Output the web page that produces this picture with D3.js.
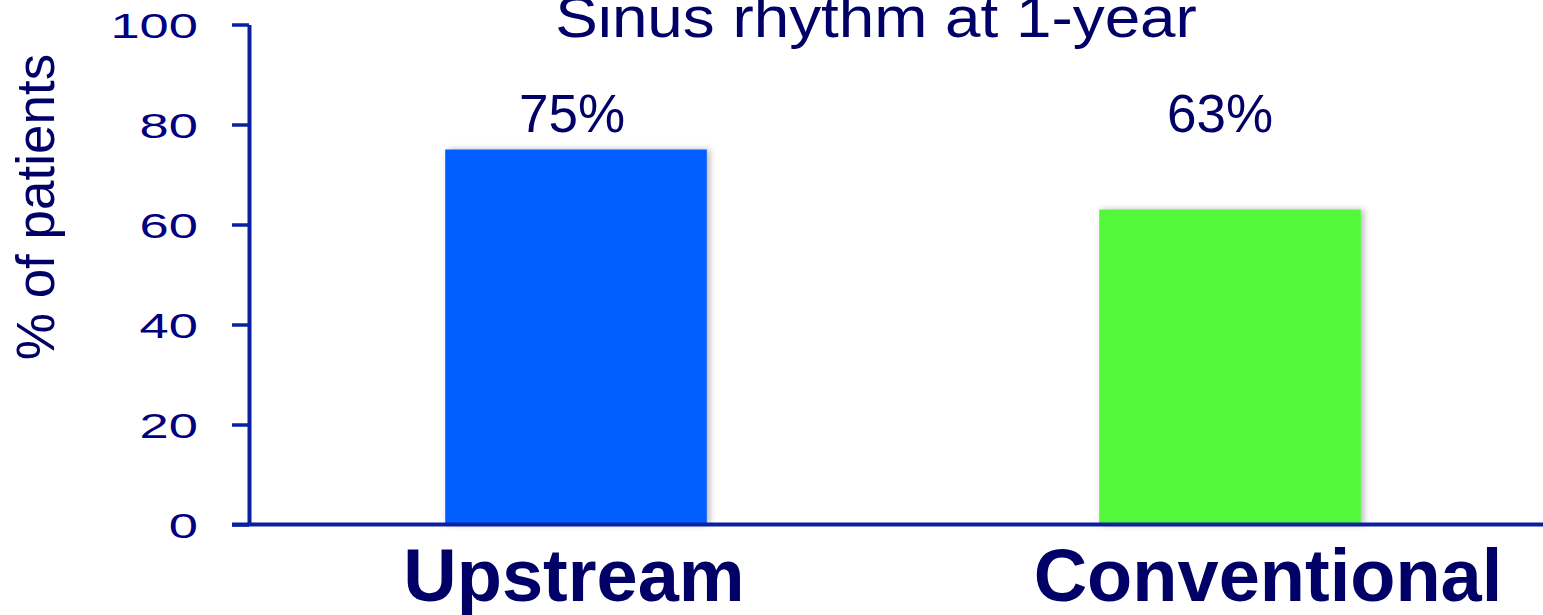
<!DOCTYPE html>
<html>
<head>
<meta charset="utf-8">
<script src="https://cdn.jsdelivr.net/npm/d3@7"></script>
<style>
  html, body { margin: 0; padding: 0; background: #fff; overflow: hidden; }
  svg { display: block; }
</style>
</head>
<body>
<svg id="chart" width="1543" height="615"></svg>
<script>
const categories = ["Upstream", "Conventional"];
const values = [75, 63];
const valueLabels = ["75%", "63%"];
const barColors = ["#055EFE", "#53F83B"];
const yTicks = [0, 20, 40, 60, 80, 100];
const titleText = "Sinus rhythm at 1-year";
const yLabelText = "% of patients";

const W = 1543, H = 615;
const axisX = 249, axisY0 = 524.5, axisYTop = 24.5;
const svg = d3.select("#chart");

const defs = svg.append("defs");
const f = defs.append("filter").attr("id", "shadow")
  .attr("x", "-10%").attr("y", "-10%").attr("width", "130%").attr("height", "120%");
f.append("feDropShadow").attr("dx", 3).attr("dy", 0).attr("stdDeviation", 3)
  .attr("flood-color", "#000").attr("flood-opacity", 0.28);

const x = d3.scaleBand().domain(categories).range([axisX, 1557])
  .paddingInner(0.6).paddingOuter(0.3);
const y = d3.scaleLinear().domain([0, 100]).range([axisY0, axisYTop]);

// bars
svg.append("g").selectAll("rect").data(categories).join("rect")
  .attr("x", d => x(d))
  .attr("y", (d, i) => y(values[i]))
  .attr("width", x.bandwidth())
  .attr("height", (d, i) => y(0) - y(values[i]))
  .attr("fill", (d, i) => barColors[i])
  .attr("filter", "url(#shadow)");

// y axis
const axisColor = "#0A20A0";
const textNavy = "#000080";
const sx = 1.5;
const yAxis = svg.append("g").attr("transform", `translate(${axisX},0)`)
  .call(d3.axisLeft(y).tickValues(yTicks).tickSize(17).tickPadding(34).tickSizeOuter(0));
yAxis.select(".domain").attr("stroke", axisColor).attr("stroke-width", 4);
yAxis.selectAll(".tick line").attr("stroke", axisColor).attr("stroke-width", 3.5);
yAxis.selectAll(".tick text")
  .attr("fill", textNavy)
  .style("font-family", "'Liberation Sans', Arial, sans-serif")
  .style("font-size", "35px")
  .attr("x", -51 / sx)
  .attr("dy", "0.36em")
  .attr("transform", `scale(${sx},1)`);

// x axis line
svg.append("line")
  .attr("x1", axisX - 17).attr("x2", W)
  .attr("y1", y(0)).attr("y2", y(0))
  .attr("stroke", axisColor).attr("stroke-width", 4);

// x category labels
const labelDx = [-2, 38];
svg.append("g").selectAll("text").data(categories).join("text")
  .attr("x", (d, i) => x(d) + x.bandwidth() / 2 + labelDx[i])
  .attr("y", 601)
  .attr("text-anchor", "middle")
  .attr("fill", "#000066")
  .style("font-family", "'Liberation Sans', Arial, sans-serif")
  .style("font-weight", "bold")
  .style("font-size", "74px")
  .text(d => d);

// value labels
const valueDx = [-4, -10];
svg.append("g").selectAll("text").data(categories).join("text")
  .attr("x", (d, i) => x(d) + x.bandwidth() / 2 + valueDx[i])
  .attr("y", 132)
  .attr("text-anchor", "middle")
  .attr("fill", "#000066")
  .style("font-family", "'Liberation Sans', Arial, sans-serif")
  .style("font-size", "53px")
  .text((d, i) => valueLabels[i]);

// title
svg.append("text")
  .attr("transform", "translate(876,37) scale(1.1,1)")
  .attr("text-anchor", "middle")
  .attr("fill", "#000066")
  .style("font-family", "'Liberation Sans', Arial, sans-serif")
  .style("font-size", "58px")
  .text(titleText);

// y label
svg.append("text")
  .attr("transform", "translate(54,207) rotate(-90)")
  .attr("text-anchor", "middle")
  .attr("fill", "#000066")
  .style("font-family", "'Liberation Sans', Arial, sans-serif")
  .style("font-size", "53px")
  .text(yLabelText);
</script>
</body>
</html>
